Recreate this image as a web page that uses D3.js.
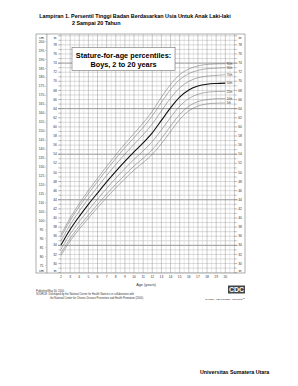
<!DOCTYPE html>
<html>
<head>
<meta charset="utf-8">
<script src="https://cdn.jsdelivr.net/npm/d3@7"></script>
<style>
  body { margin: 0; background: #fff; }
  svg text { font-family: "Liberation Sans", Arial, sans-serif; }
</style>
</head>
<body>
<div id="chart"></div>
<script>
// percentile curves, stature in cm
var ages = [2, 3, 4, 5, 6, 7, 8, 9, 10, 11, 12, 13, 14, 15, 16, 17, 18, 19, 20];
var p95 = [92.3, 101.6, 109.6, 116.9, 123.7, 130.4, 136.8, 142.9, 148.7, 154.6, 161.1, 169.0, 176.0, 181.5, 184.7, 186.4, 187.2, 187.5, 187.6];
var p90 = [91.0, 100.2, 108.0, 115.2, 121.9, 128.5, 134.8, 140.8, 146.4, 152.1, 158.5, 166.1, 173.2, 178.7, 182.1, 183.9, 184.8, 185.1, 185.4];
var p75 = [88.9, 97.8, 105.4, 112.4, 118.9, 125.3, 131.4, 137.2, 142.7, 148.0, 154.0, 161.3, 168.4, 174.1, 177.8, 179.8, 180.7, 181.1, 181.5];
var p50 = [86.5, 95.2, 102.5, 109.2, 115.5, 121.7, 127.6, 133.2, 138.5, 143.5, 149.1, 156.0, 163.0, 169.0, 173.0, 175.2, 176.2, 176.6, 176.8];
var p25 = [84.1, 92.6, 99.6, 106.0, 112.1, 118.1, 123.8, 129.2, 134.3, 139.0, 144.2, 150.7, 157.6, 163.9, 168.2, 170.6, 171.7, 172.1, 172.1];
var p10 = [82.0, 90.2, 97.0, 103.2, 109.1, 114.9, 120.4, 125.6, 130.6, 134.9, 139.7, 145.9, 152.8, 159.3, 163.9, 166.5, 167.6, 168.1, 168.2];
var p5  = [80.7, 88.8, 95.4, 101.5, 107.3, 113.0, 118.4, 123.5, 128.3, 132.5, 137.1, 143.0, 149.8, 156.5, 161.3, 164.0, 165.2, 165.6, 165.7];
var curveNames = ["95th", "90th", "75th", "50th", "25th", "10th", "5th"];

var ageTicks = d3.range(2, 21);
var cmLabels = d3.range(75, 201, 5);
var inLabels = d3.range(30, 79, 2);

var W = 298, H = 386;
var svg = d3.select("#chart").append("svg").attr("width", W).attr("height", H);

var x = d3.scaleLinear().domain([2, 20]).range([61, 225.3]);
var y = d3.scaleLinear().domain([75, 200]).range([265.7, 41.5]);
var gTop = 34, gBot = 273, gLeft = x(2), gRight = x(21);

// page title
svg.append("text").attr("x", 135).attr("y", 18).attr("text-anchor", "middle")
  .attr("font-size", 5.4).attr("font-weight", "bold")
  .text("Lampiran 1. Persentil Tinggi Badan Berdasarkan Usia Untuk Anak Laki-laki");
svg.append("text").attr("x", 72).attr("y", 24.5)
  .attr("font-size", 5.4).attr("font-weight", "bold")
  .text("2 Sampai 20 Tahun");

// outer frame
svg.append("rect").attr("x", 36).attr("y", gTop).attr("width", 209).attr("height", gBot - gTop)
  .attr("fill", "none").attr("stroke", "#777").attr("stroke-width", 0.6);

var grid = svg.append("g");
// horizontal grid, one line per inch
d3.range(28, 81).forEach(function(v) {
  var yy = y(v * 2.54);
  if (yy < gTop || yy > gBot) return;
  var dark = (v - 4) % 10 === 0;
  grid.append("line").attr("x1", gLeft - 3).attr("x2", gRight + 3).attr("y1", yy).attr("y2", yy)
    .attr("stroke", dark ? "#666" : "#aaa").attr("stroke-width", dark ? 0.7 : 0.45);
});
// vertical grid, every half year
d3.range(2, 21.01, 0.5).forEach(function(a) {
  var whole = a % 1 === 0;
  grid.append("line").attr("x1", x(a)).attr("x2", x(a)).attr("y1", gTop).attr("y2", gBot)
    .attr("stroke", whole ? "#999" : "#c4c4c4").attr("stroke-width", whole ? 0.5 : 0.4);
});

// left cm scale
svg.append("line").attr("x1", 47).attr("x2", 47).attr("y1", gTop).attr("y2", gBot)
  .attr("stroke", "#777").attr("stroke-width", 0.5);
d3.range(71, 205).forEach(function(v) {
  var yy = y(v);
  if (yy < gTop || yy > gBot) return;
  svg.append("line").attr("x1", 47).attr("x2", 47 - (v % 5 === 0 ? 2 : 1)).attr("y1", yy).attr("y2", yy)
    .attr("stroke", "#777").attr("stroke-width", 0.35);
});
var fs = 3.3;
svg.selectAll(".cmL").data(cmLabels).join("text")
  .attr("x", 41.5).attr("y", function(d) { return y(d) + 1.1; }).attr("text-anchor", "middle")
  .attr("font-size", fs).attr("fill", "#333").text(function(d) { return d; });
svg.append("text").attr("x", 41.5).attr("y", 38.5).attr("text-anchor", "middle").attr("font-size", fs).text("cm");
svg.append("text").attr("x", 41.5).attr("y", 272).attr("text-anchor", "middle").attr("font-size", fs).text("cm");

// left and right inch scales
[[gLeft, -1, 55], [gRight, 1, 240]].forEach(function(s) {
  d3.range(28, 81).forEach(function(v) {
    var yy = y(v * 2.54);
    if (yy < gTop || yy > gBot) return;
    svg.append("line").attr("x1", s[0]).attr("x2", s[0] + s[1] * (v % 2 === 0 ? 2.5 : 1.5))
      .attr("y1", yy).attr("y2", yy).attr("stroke", "#777").attr("stroke-width", 0.35);
  });
  svg.selectAll(null).data(inLabels).join("text")
    .attr("x", s[2]).attr("y", function(d) { return y(d * 2.54) + 1.1; }).attr("text-anchor", "middle")
    .attr("font-size", fs).attr("fill", "#333").text(function(d) { return d; });
  svg.append("text").attr("x", s[2]).attr("y", 38.5).attr("text-anchor", "middle").attr("font-size", fs).text("in");
  svg.append("text").attr("x", s[2]).attr("y", 272).attr("text-anchor", "middle").attr("font-size", fs).text("in");
});

// percentile curves
var line = d3.line().x(function(d, i) { return x(ages[i]); }).y(function(d) { return y(d); })
  .curve(d3.curveCatmullRom.alpha(0.5));
var series = [p95, p90, p75, p50, p25, p10, p5];
series.forEach(function(s, k) {
  var med = curveNames[k] === "50th";
  svg.append("path").datum(s).attr("d", line).attr("fill", "none")
    .attr("stroke", med ? "#111" : "#666").attr("stroke-width", med ? 1.1 : 0.5);
  svg.append("text").attr("x", x(20) + 1.5).attr("y", y(s[s.length - 1]) + 1)
    .attr("font-size", 2.8).attr("fill", "#333").text(curveNames[k]);
});

// chart title box
svg.append("rect").attr("x", 72).attr("y", 47.5).attr("width", 103).attr("height", 23)
  .attr("fill", "#fff").attr("stroke", "#555").attr("stroke-width", 0.5);
svg.append("text").attr("x", 123.5).attr("y", 58).attr("text-anchor", "middle")
  .attr("font-size", 7.3).attr("font-weight", "bold").text("Stature-for-age percentiles:");
svg.append("text").attr("x", 123.5).attr("y", 66.5).attr("text-anchor", "middle")
  .attr("font-size", 7.3).attr("font-weight", "bold").text("Boys, 2 to 20 years");

// age axis
svg.selectAll(".ageL").data(ageTicks).join("text")
  .attr("x", function(d) { return x(d); }).attr("y", 277.5).attr("text-anchor", "middle")
  .attr("font-size", fs).attr("fill", "#333").text(function(d) { return d; });
svg.append("text").attr("x", 146).attr("y", 285.5).attr("text-anchor", "middle")
  .attr("font-size", 3.8).attr("fill", "#333").text("Age (years)");

// footnotes
svg.append("text").attr("x", 36).attr("y", 291.5).attr("font-size", 2.6).attr("fill", "#333").text("Published May 30, 2000.");
svg.append("text").attr("x", 36).attr("y", 295).attr("font-size", 2.6).attr("fill", "#333")
  .text("SOURCE: Developed by the National Center for Health Statistics in collaboration with");
svg.append("text").attr("x", 50).attr("y", 298.5).attr("font-size", 2.6).attr("fill", "#333")
  .text("the National Center for Chronic Disease Prevention and Health Promotion (2000).");

// CDC logo
svg.append("rect").attr("x", 228).attr("y", 285.5).attr("width", 17).attr("height", 8).attr("fill", "#444");
svg.append("text").attr("x", 236.5).attr("y", 292).attr("text-anchor", "middle")
  .attr("font-size", 7).attr("font-weight", "bold").attr("fill", "#fff").text("CDC");
svg.append("text").attr("x", 245).attr("y", 299.5).attr("text-anchor", "end")
  .attr("font-size", 2.5).attr("font-weight", "bold").attr("fill", "#444").text("SAFER · HEALTHIER · PEOPLE™");

svg.append("text").attr("x", 200).attr("y", 373.5).attr("font-size", 5.3).attr("font-weight", "bold")
  .text("Universitas Sumatera Utara");
</script>
</body>
</html>
